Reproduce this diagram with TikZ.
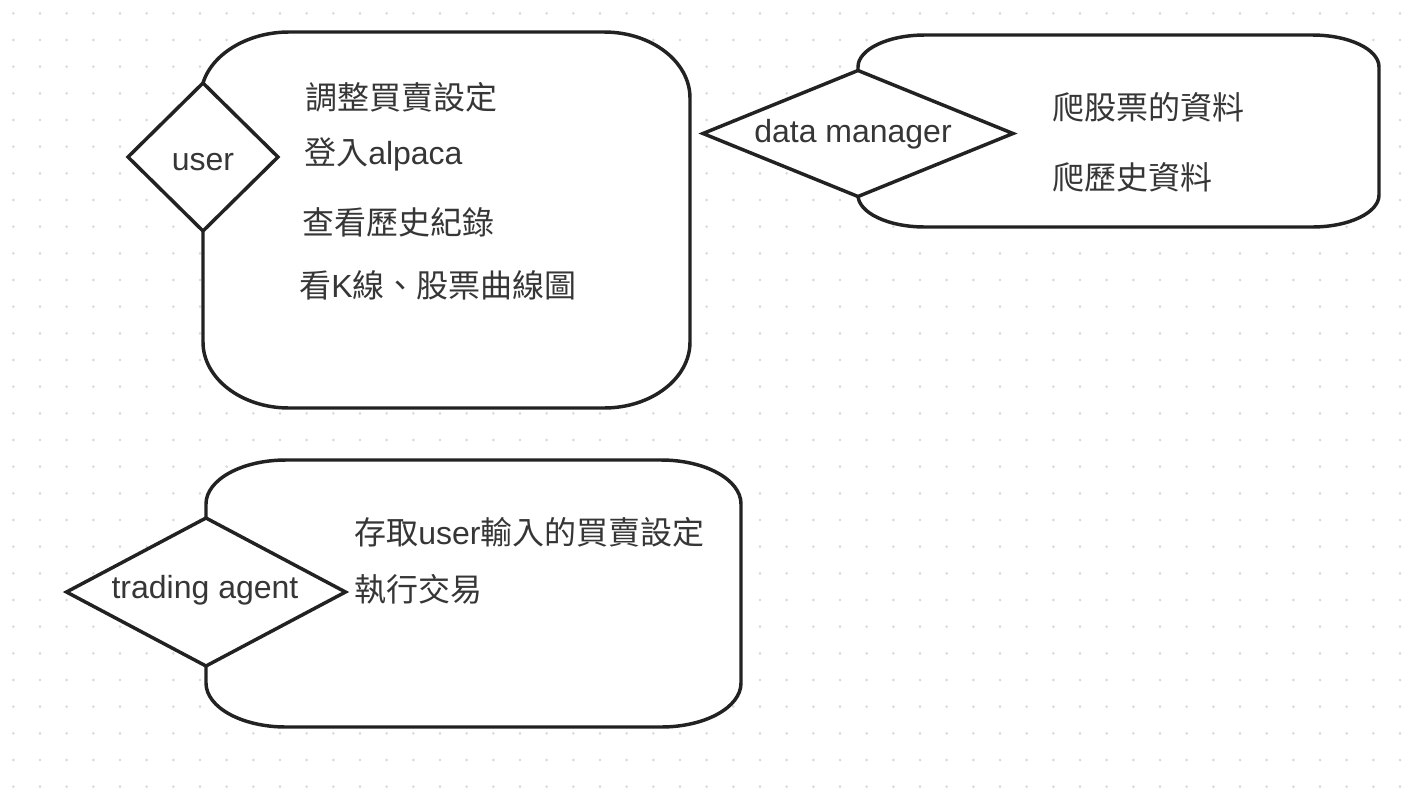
\documentclass[tikz,border=0pt]{standalone}
\usepackage{fontspec}
\setmainfont{Liberation Sans}
\newfontfamily\cjk{Noto Sans CJK TC}
\usetikzlibrary{shapes.geometric}
\pgfdeclarelayer{gridlayer}
\pgfdeclarelayer{boxlayer}
\pgfsetlayers{gridlayer,boxlayer,main}
\definecolor{linec}{HTML}{222222}
\definecolor{textc}{HTML}{363636}
\definecolor{dotc}{HTML}{D9D9D9}
\tikzset{
  boxline/.style={draw=linec, line width=2.6pt, fill=white, line join=round},
  decision/.style={diamond, draw=linec, line width=2.6pt, fill=white, inner sep=0pt, outer sep=0pt, line join=miter},
  txt/.style={text=textc, inner sep=0pt, font=\fontsize{24pt}{28pt}\selectfont},
}
\begin{document}
\begin{tikzpicture}[x=0.75pt, y=-0.75pt]
\useasboundingbox (0,0) rectangle (1422,800);
\begin{pgfonlayer}{gridlayer}
\fill[white] (0,0) rectangle (1422,800);
\foreach \i in {0,...,52}{
  \foreach \j in {0,...,29}{
    \fill[dotc] ({13.333+26.667*\i},{13.333+26.667*\j}) circle (1.1pt);
  }
}
\end{pgfonlayer}
% diamonds (nodes)
\node[decision, minimum width=112.5pt, minimum height=111pt] (ud) at (203,157) {};
\node[decision, minimum width=232.5pt, minimum height=94.5pt, shape aspect=2.46] (dd) at (858,133.5) {};
\node[decision, minimum width=209.25pt, minimum height=111pt, shape aspect=1.89] (td) at (206,592) {};
% rounded boxes behind the diamonds
\begin{pgfonlayer}{boxlayer}
\path[boxline] (ud.north) .. controls (212.5,52.6) and (249.5,32) .. (289,32) -- (604,32)
  .. controls (651.5,32) and (690,61.6) .. (690,98) -- (690,342)
  .. controls (690,378.4) and (651.5,408) .. (604,408) -- (289,408)
  .. controls (241.5,408) and (203,378.4) .. (203,342) -- (ud.south) -- cycle;
\path[boxline] (dd.north) -- (858,67) .. controls (858,49.3) and (888,35) .. (925,35) -- (1312,35)
  .. controls (1349,35) and (1379,49.3) .. (1379,67) -- (1379,195)
  .. controls (1379,212.7) and (1349,227) .. (1312,227) -- (925,227)
  .. controls (888,227) and (858,212.7) .. (858,195) -- (dd.south) -- cycle;
\path[boxline] (td.north) -- (206,504) .. controls (206,479.7) and (241.8,460) .. (286,460) -- (661,460)
  .. controls (705.2,460) and (741,479.7) .. (741,504) -- (741,683)
  .. controls (741,707.3) and (705.2,727) .. (661,727) -- (286,727)
  .. controls (241.8,727) and (206,707.3) .. (206,683) -- (td.south) -- cycle;
\end{pgfonlayer}
% labels
\node[txt, anchor=base] (ul) at (203,170) {user};
\node[txt, anchor=base] (dl) at (853,142) {data manager};
\node[txt, anchor=base] (tl) at (205,598) {trading agent};
% user texts
\node[txt, anchor=base west] (u1) at (305,109) {\cjk 調整買賣設定};
\node[txt, anchor=base west] (u2) at (304,164) {{\cjk 登入}alpaca};
\node[txt, anchor=base west] (u3) at (302,234) {\cjk 查看歷史紀錄};
\node[txt, anchor=base west] (u4) at (299,297) {{\cjk 看}K{\cjk 線、股票曲線圖}};
% data manager texts
\node[txt, anchor=base west] (d1) at (1052,119) {\cjk 爬股票的資料};
\node[txt, anchor=base west] (d2) at (1052,189) {\cjk 爬歷史資料};
% trading agent texts
\node[txt, anchor=base west] (t1) at (354,544) {{\cjk 存取}user{\cjk 輸入的買賣設定}};
\node[txt, anchor=base west] (t2) at (354,601) {\cjk 執行交易};
\end{tikzpicture}
\end{document}
